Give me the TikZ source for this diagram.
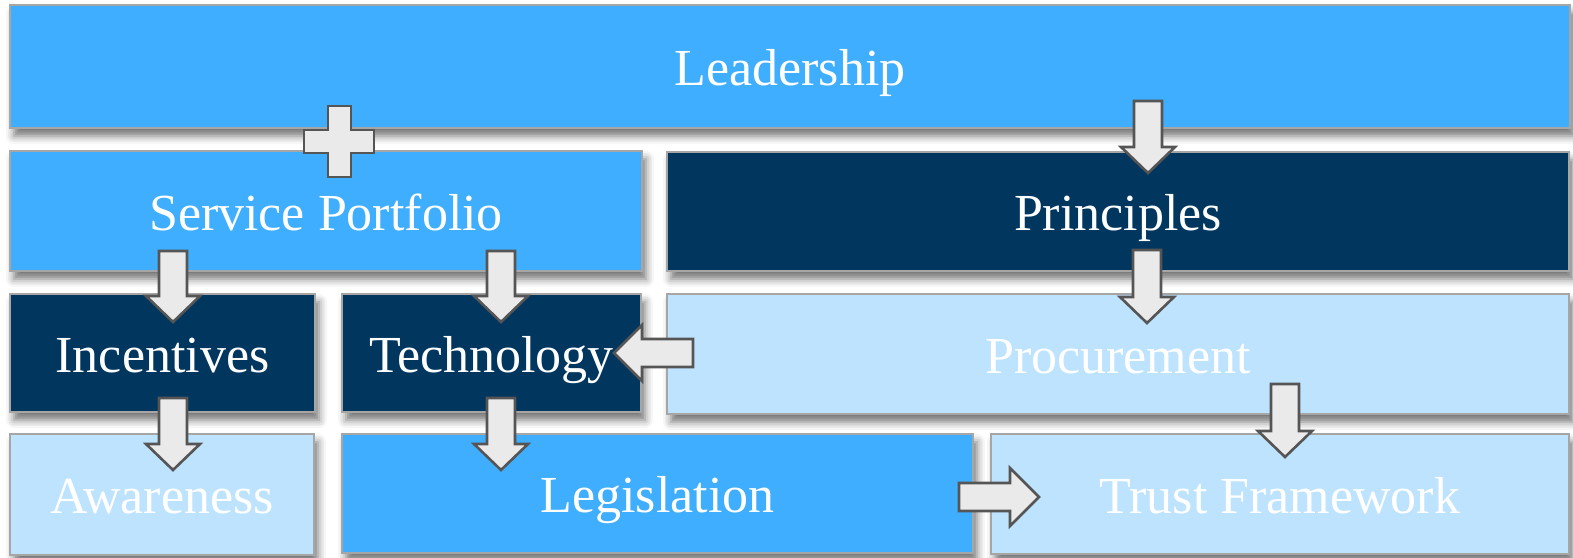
\documentclass[tikz,border=0pt]{standalone}
\usepackage{fontspec}
\setmainfont{Liberation Serif}
\usetikzlibrary{shadows.blur}
\definecolor{lblue}{HTML}{40AEFE}
\definecolor{navy}{HTML}{01365F}
\definecolor{pale}{HTML}{BEE3FE}
\definecolor{arrfill}{HTML}{EAEAEA}
\definecolor{arrline}{HTML}{555555}
\definecolor{boxline}{HTML}{A6A6A6}
\tikzset{
  box/.style={draw=boxline, line width=1pt, text=white, inner sep=0pt, outer sep=0pt,
    font=\fontsize{26}{30}\selectfont, text height=22pt, text depth=3pt,
    blur shadow={shadow xshift=2pt, shadow yshift=-4pt, shadow blur radius=4pt, shadow opacity=55}},
  blockarr/.style={draw=arrline, fill=arrfill, line width=1.3pt, line join=miter},
}
\newcommand{\downarr}[3]{% center x, top y, tip y
  \draw[blockarr] (#1-14,#2) -- (#1+14,#2) -- (#1+14,#3-26) -- (#1+27,#3-26) -- (#1,#3)
    -- (#1-27,#3-26) -- (#1-14,#3-26) -- cycle;}
\begin{document}
\begin{tikzpicture}[x=0.5pt,y=-0.5pt]
\useasboundingbox (0,0) rectangle (1573,557);
\node[box, fill=lblue, minimum width=780pt, minimum height=61.5pt] (lead) at (790,66.5) {Leadership};
\node[box, fill=lblue, minimum width=316pt, minimum height=60pt] (serv) at (326,211) {Service Portfolio};
\node[box, fill=navy, minimum width=451pt, minimum height=59.5pt] (prin) at (1118,211.5) {Principles};
\node[box, fill=navy, minimum width=152.5pt, minimum height=59pt] (inc) at (162.5,353) {Incentives};
\node[box, fill=navy, minimum width=149.5pt, minimum height=59pt] (tech) at (491.5,353) {Technology};
\node[box, fill=pale, minimum width=451pt, minimum height=60pt] (proc) at (1118,354) {Procurement};
\node[box, fill=pale, minimum width=152pt, minimum height=60.5pt] (awar) at (162,494.5) {Awareness};
\node[box, fill=lblue, minimum width=315.5pt, minimum height=59.5pt] (legi) at (657.5,493.5) {Legislation};
\node[box, fill=pale, minimum width=289pt, minimum height=60pt] (trust) at (1280,494) {Trust Framework};
% plus sign
\draw[blockarr] (328,106) -- (351,106) -- (351,130) -- (374,130) -- (374,153) -- (351,153)
  -- (351,177) -- (328,177) -- (328,153) -- (304,153) -- (304,130) -- (328,130) -- cycle;
% down arrows
\downarr{1148}{101}{173}
\downarr{173}{251}{322}
\downarr{501}{251}{322}
\downarr{1147}{250}{323}
\downarr{1285}{384}{457}
\downarr{173}{398}{470}
\downarr{501}{398}{470}
% left arrow (Procurement -> Technology)
\draw[blockarr] (693,339) -- (693,367) -- (642,367) -- (642,381) -- (614,353) -- (642,325)
  -- (642,339) -- cycle;
% right arrow (Legislation -> Trust Framework)
\draw[blockarr] (959,483) -- (959,511) -- (1010,511) -- (1010,526) -- (1039,497) -- (1010,468)
  -- (1010,483) -- cycle;
\end{tikzpicture}
\end{document}
